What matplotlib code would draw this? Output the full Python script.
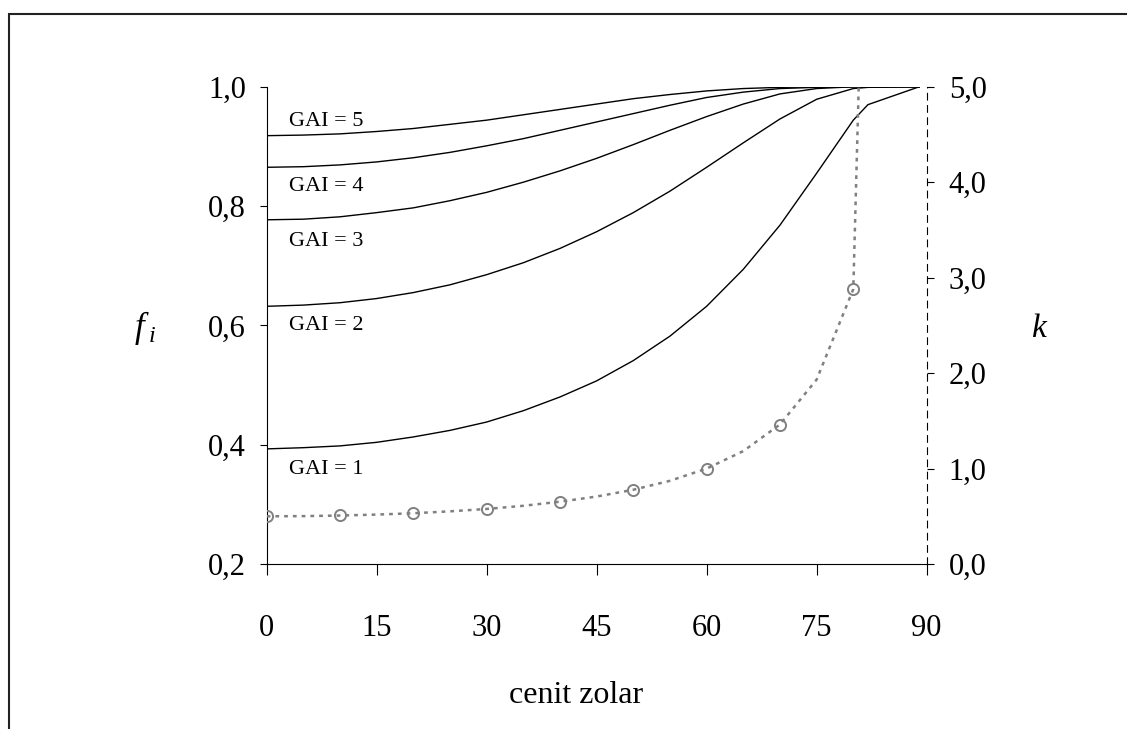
import numpy as np
import matplotlib.pyplot as plt
from matplotlib.ticker import FuncFormatter
from matplotlib.patches import Rectangle

plt.rcParams['font.family'] = ['Liberation Serif', 'DejaVu Serif']
plt.rcParams['mathtext.fontset'] = 'custom'
plt.rcParams['mathtext.it'] = 'Liberation Serif:italic'
plt.rcParams['mathtext.rm'] = 'Liberation Serif'

# zenith angle (deg) of the fi line vertices
zenit = [0, 5, 10, 15, 20, 25, 30, 35, 40, 45, 50, 55, 60, 65, 70, 75, 80, 82, 89]

# intercepted fraction for each GAI
fi_gai1 = [0.393, 0.395, 0.398, 0.404, 0.413, 0.424, 0.438, 0.457, 0.480, 0.507,
           0.541, 0.582, 0.632, 0.694, 0.768, 0.855, 0.944, 0.970, 1.000]
fi_gai2 = [0.632, 0.634, 0.638, 0.645, 0.655, 0.668, 0.685, 0.705, 0.729, 0.757,
           0.789, 0.825, 0.865, 0.906, 0.946, 0.979, 0.997, 0.999, 1.000]
fi_gai3 = [0.777, 0.778, 0.782, 0.789, 0.797, 0.809, 0.823, 0.840, 0.859, 0.880,
           0.903, 0.927, 0.950, 0.971, 0.988, 0.997, 1.000, 1.000, 1.000]
fi_gai4 = [0.865, 0.866, 0.869, 0.874, 0.881, 0.890, 0.901, 0.913, 0.927, 0.941,
           0.955, 0.969, 0.982, 0.991, 0.997, 0.999, 1.000, 1.000, 1.000]
fi_gai5 = [0.918, 0.919, 0.921, 0.925, 0.930, 0.937, 0.944, 0.953, 0.962, 0.971,
           0.980, 0.987, 0.993, 0.997, 0.999, 1.000, 1.000, 1.000, 1.000]
fi_series = [fi_gai1, fi_gai2, fi_gai3, fi_gai4, fi_gai5]
gai_labels = ['GAI = 1', 'GAI = 2', 'GAI = 3', 'GAI = 4', 'GAI = 5']
label_y = [0.359, 0.599, 0.741, 0.832, 0.941]

# extinction coefficient k (right axis)
zenit_k = [0, 5, 10, 15, 20, 25, 30, 35, 40, 45, 50, 55, 60, 65, 70, 75, 80, 89]
k_line = [0.500, 0.502, 0.508, 0.518, 0.532, 0.552, 0.577, 0.610, 0.653, 0.707,
          0.778, 0.872, 1.000, 1.183, 1.462, 1.932, 2.879, 28.65]
zenit_pts = [0, 10, 20, 30, 40, 50, 60, 70, 80]
k_pts = [0.50, 0.51, 0.53, 0.58, 0.65, 0.78, 1.00, 1.46, 2.88]

fig = plt.figure(figsize=(11.27, 7.29), dpi=100)
ax = fig.add_axes([0.2366, 0.2263, 0.5856, 0.6547])
ax2 = ax.twinx()

for fi in fi_series:
    ax.plot(zenit, fi, color='black', lw=1.0)
for lab, yy in zip(gai_labels, label_y):
    ax.text(3, yy, lab, fontsize=16, ha='left', va='center')

ax2.plot(zenit_k, k_line, color='#808080', lw=1.8, dashes=(1.5, 2))
ax2.plot(zenit_pts, k_pts, ls='none', marker='o', ms=8, mfc='none',
         mec='#808080', mew=1.4)

ax.set_xlim(0, 90)
ax.set_ylim(0.2, 1.0)
ax2.set_ylim(0, 5.0)
ax.set_xticks(np.arange(0, 91, 15))
ax.set_yticks([0.2, 0.4, 0.6, 0.8, 1.0])
ax2.set_yticks([0, 1, 2, 3, 4, 5])

comma = FuncFormatter(lambda v, p: f'{v:.1f}'.replace('.', ','))
ax.yaxis.set_major_formatter(comma)
ax2.yaxis.set_major_formatter(comma)

for a in (ax, ax2):
    a.spines['top'].set_visible(False)
    for s in a.spines.values():
        s.set_linewidth(0.8)
ax.spines['right'].set_visible(False)
ax2.spines['left'].set_visible(False)
ax2.spines['bottom'].set_visible(False)
ax2.spines['right'].set_linestyle((0, (6, 5)))

ax.tick_params(axis='x', direction='out', length=8, width=0.8, labelsize=22, pad=28)
ax.tick_params(axis='y', direction='out', length=5, width=0.8, labelsize=22, pad=10)
ax2.tick_params(axis='y', direction='out', length=5, width=0.8, labelsize=22, pad=11)

ax.set_xlabel('cenit zolar', fontsize=23)
ax.xaxis.set_label_coords(0.469, -0.245)
ax.set_ylabel('$f\\,_i$', fontsize=25, rotation=0, va='center')
ax.yaxis.set_label_coords(-0.184, 0.494)
ax2.set_ylabel('$k$', fontsize=24, rotation=0, va='center')
ax2.yaxis.set_label_coords(1.172, 0.494)

fig.add_artist(Rectangle((9 / 1127, -0.1), 1.2, 1 - 14 / 729 + 0.1,
                         transform=fig.transFigure, fill=False,
                         edgecolor='#222222', lw=1.5))

fig.savefig('out.png', dpi=100)
